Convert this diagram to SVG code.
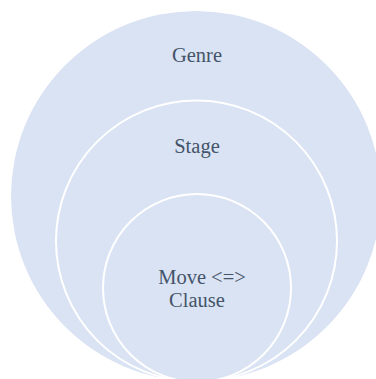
<svg xmlns="http://www.w3.org/2000/svg" width="376" height="379" viewBox="0 0 376 379">
  <style>
    .ring { fill: #dae3f3; stroke: #ffffff; stroke-width: 2; }
    .label { font-family: "Liberation Serif", "DejaVu Serif", serif; font-size: 20.5px; fill: #44546a; text-anchor: middle; }
  </style>
  <rect width="376" height="379" fill="#ffffff"/>
  <g id="genre">
    <circle class="ring" cx="196" cy="196" r="185" style="stroke:none"/>
    <text class="label" x="197" y="62">Genre</text>
  </g>
  <g id="stage">
    <circle class="ring" cx="196.5" cy="241" r="140.5"/>
    <text class="label" x="197" y="153">Stage</text>
  </g>
  <g id="move-clause">
    <circle class="ring" cx="197" cy="288" r="94"/>
    <text class="label" x="202" y="284">Move &lt;=&gt;</text>
    <text class="label" x="197" y="307">Clause</text>
  </g>
  <g id="connectors"/>
</svg>
